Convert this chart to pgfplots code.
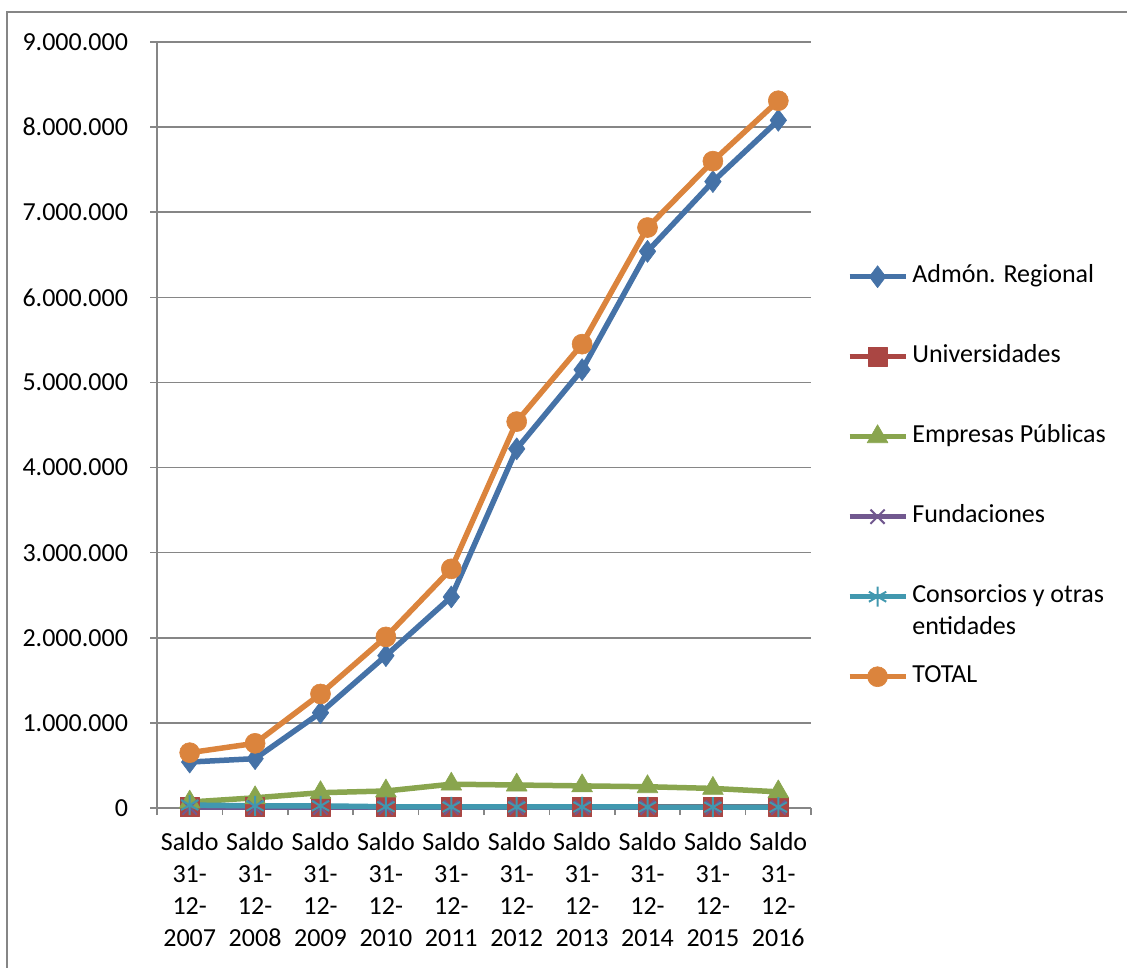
\documentclass[border=0pt]{standalone}
\usepackage{pgfplots}
\pgfplotsset{compat=1.18}
\usepackage{fontspec}
\setmainfont{Carlito}

\definecolor{cAdm}{HTML}{4572A7}
\definecolor{cUni}{HTML}{AA4643}
\definecolor{cEmp}{HTML}{89A54E}
\definecolor{cFun}{HTML}{71588F}
\definecolor{cCon}{HTML}{4198AF}
\definecolor{cTot}{HTML}{DB843D}
\definecolor{gridgray}{HTML}{868686}

\pgfplotstableread{
x adm uni emp fun con tot
0 540000 10000 70000 5000 35000 650000
1 580000 10000 120000 5000 25000 760000
2 1120000 10000 180000 5000 25000 1340000
3 1790000 10000 200000 5000 15000 2010000
4 2480000 10000 280000 5000 12000 2810000
5 4220000 10000 270000 5000 12000 4540000
6 5150000 10000 260000 5000 12000 5450000
7 6540000 10000 250000 5000 12000 6820000
8 7360000 10000 230000 5000 10000 7600000
9 8080000 10000 190000 5000 10000 8310000
}\datatable

\begin{document}
\begin{tikzpicture}[x=0.5pt,y=-0.5pt]
\useasboundingbox (0,0) rectangle (1127,967);
\draw[gridgray, line width=1pt] (7,12) rectangle (1140,980);
\coordinate (O) at (157,808);
\begin{axis}[
    at={(O)}, anchor=south west,
    scale only axis, width=327pt, height=383pt,
    xmin=-0.5, xmax=9.5, ymin=0, ymax=9000000,
    axis lines*=left,
    axis line style={gridgray, line width=0.75pt},
    tick align=outside,
    every tick/.style={gridgray, line width=0.75pt},
    major tick length=3.5pt, minor tick length=3.5pt,
    xtick={0,1,2,3,4,5,6,7,8,9},
    major x tick style={draw=none},
    minor xtick={-0.5,0.5,1.5,2.5,3.5,4.5,5.5,6.5,7.5,8.5,9.5},
    xticklabels={{Saldo\\31-\\12-\\2007},{Saldo\\31-\\12-\\2008},{Saldo\\31-\\12-\\2009},{Saldo\\31-\\12-\\2010},{Saldo\\31-\\12-\\2011},{Saldo\\31-\\12-\\2012},{Saldo\\31-\\12-\\2013},{Saldo\\31-\\12-\\2014},{Saldo\\31-\\12-\\2015},{Saldo\\31-\\12-\\2016}},
    xticklabel style={align=center, font=\fontsize{13}{16}\selectfont, yshift=-5pt},
    ytick={0,1000000,2000000,3000000,4000000,5000000,6000000,7000000,8000000,9000000},
    yticklabels={0,1.000.000,2.000.000,3.000.000,4.000.000,5.000.000,6.000.000,7.000.000,8.000.000,9.000.000},
    yticklabel style={font=\fontsize{13}{16}\selectfont, xshift=-7.5pt},
    scaled y ticks=false,
    ymajorgrids,
    major grid style={gridgray, line width=0.75pt},
    clip=false,
    legend image code/.code={\draw[mark repeat=2,mark phase=2,#1] plot coordinates {(0pt,0pt) (14pt,0pt) (28pt,0pt)};},
    legend cell align=left,
    legend style={at={(1.045,0.715)}, anchor=north west, draw=none, fill=none,
        font=\fontsize{13}{16}\selectfont, row sep=28pt,
        nodes={inner sep=0pt, text height=9pt, text depth=3pt},
        /tikz/every odd column/.style={column sep=2pt}},
]
\addplot[color=cAdm, line width=2.75pt, line join=round, mark=diamond*, mark size=5.5pt, mark options={solid, fill=cAdm, line width=0.3pt}] table[x=x, y=adm] {\datatable};
\addlegendentry{Admón. Regional}
\addplot[color=cUni, line width=2.75pt, line join=round, mark=square*, mark size=4.8pt, mark options={solid, fill=cUni, line width=0.3pt}] table[x=x, y=uni] {\datatable};
\addlegendentry{Universidades}
\addplot[color=cEmp, line width=2.75pt, line join=round, mark=triangle*, mark size=6pt, mark options={solid, fill=cEmp, line width=0.3pt}] table[x=x, y=emp] {\datatable};
\addlegendentry{Empresas Públicas}
\addplot[color=cFun, line width=2.75pt, line join=round, mark=x, mark size=5pt, mark options={solid, line width=1pt}] table[x=x, y=fun] {\datatable};
\addlegendentry{Fundaciones}
\addplot[color=cCon, line width=2.75pt, line join=round, mark=asterisk, mark size=5pt, mark options={solid, line width=1pt}] table[x=x, y=con] {\datatable};
\addlegendentry{\smash{\begin{tabular}[t]{@{}l@{}}Consorcios y otras\\entidades\end{tabular}}}
\addplot[color=cTot, line width=2.75pt, line join=round, mark=*, mark size=5pt, mark options={solid, fill=cTot, line width=0.3pt}] table[x=x, y=tot] {\datatable};
\addlegendentry{TOTAL}
\end{axis}
\end{tikzpicture}
\end{document}
